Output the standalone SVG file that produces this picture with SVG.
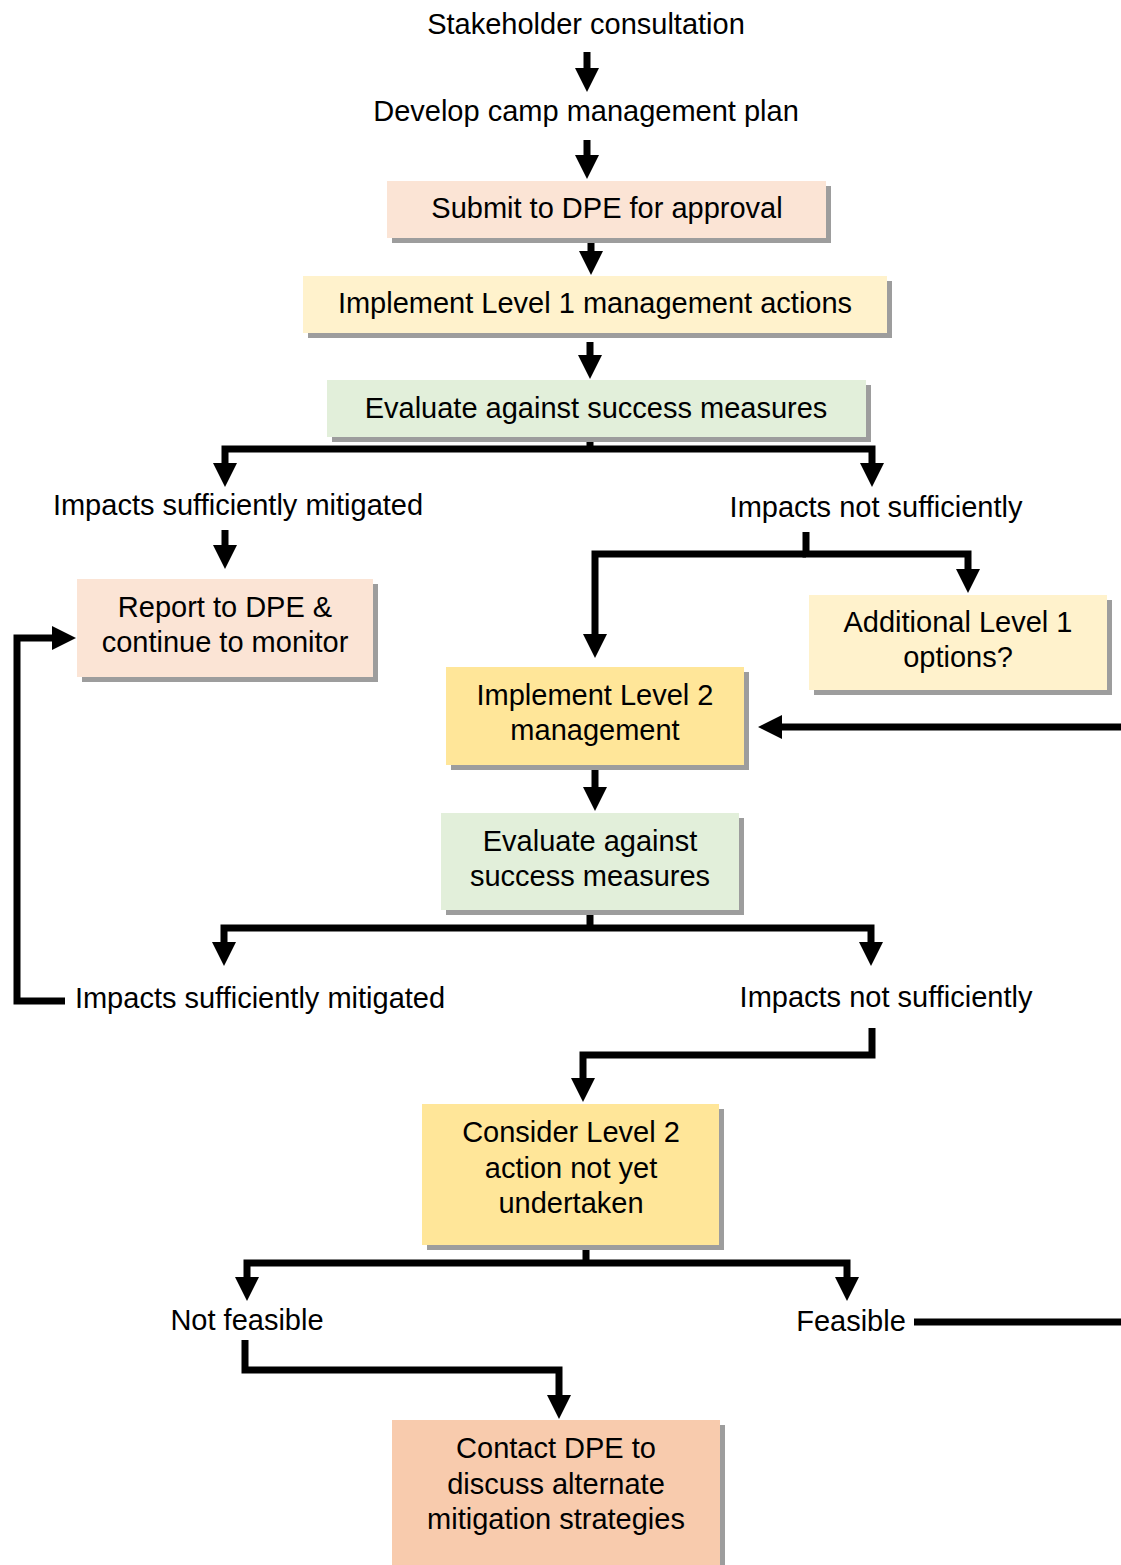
<svg xmlns="http://www.w3.org/2000/svg" width="1121" height="1565" viewBox="0 0 1121 1565">
<style>
text{font-family:"Liberation Sans",Arial,sans-serif;font-size:29px;fill:#000;text-anchor:middle}
.sh{fill:#9d9d9d}
.peach{fill:#fbe4d5}
.lv1{fill:#fff2cc}
.grn{fill:#e2efda}
.lv2{fill:#ffe699}
.org{fill:#f8cbad}
.c{fill:none;stroke:#000;stroke-width:7;stroke-linejoin:miter}
.a{marker-end:url(#ah)}
</style>
<defs>
<marker id="ah" markerUnits="userSpaceOnUse" markerWidth="24" markerHeight="24" viewBox="0 0 24 24" refX="1" refY="12" orient="auto">
<path d="M0,0 L24,12 L0,24 z" fill="#000"/>
</marker>
</defs>
<rect width="1121" height="1565" fill="#fff"/>
<g id="connectors">
<path class="c a" d="M587,52 V69"/>
<path class="c a" d="M587,140 V156"/>
<path class="c a" d="M591,238 V252"/>
<path class="c a" d="M590,342 V356"/>
<path class="c" d="M590,437 V452"/>
<path class="c a" d="M590,449 H225 V464"/>
<path class="c a" d="M590,449 H872 V464"/>
<path class="c a" d="M225,530 V546"/>
<path class="c a" d="M65,1001 H17 V638 H53"/>
<path class="c a" d="M806,532 V554 H968 V570"/>
<path class="c a" d="M806,554 H595 V635"/>
<path class="c a" d="M1121,727 H781"/>
<path class="c a" d="M595,765 V788"/>
<path class="c" d="M590,910 V931"/>
<path class="c a" d="M590,928 H224 V943"/>
<path class="c a" d="M590,928 H871 V943"/>
<path class="c a" d="M872,1028 V1055 H583 V1079"/>
<path class="c" d="M586,1245 V1266"/>
<path class="c a" d="M586,1263 H247 V1278"/>
<path class="c a" d="M586,1263 H847 V1278"/>
<path class="c" d="M914,1322 H1121"/>
<path class="c a" d="M245,1340 V1370 H559 V1396"/>
</g>
<g id="n-stakeholder"><text x="586" y="34">Stakeholder consultation</text></g>
<g id="n-develop"><text x="586" y="121">Develop camp management plan</text></g>
<g id="n-submit">
<rect class="sh" x="392" y="186" width="439" height="57"/>
<rect class="peach" x="387" y="181" width="439" height="57"/>
<text x="607" y="218">Submit to DPE for approval</text>
</g>
<g id="n-impl1">
<rect class="sh" x="308" y="281" width="584" height="57"/>
<rect class="lv1" x="303" y="276" width="584" height="57"/>
<text x="595" y="313">Implement Level 1 management actions</text>
</g>
<g id="n-eval1">
<rect class="sh" x="332" y="385" width="539" height="57"/>
<rect class="grn" x="327" y="380" width="539" height="57"/>
<text x="596" y="418">Evaluate against success measures</text>
</g>
<g id="n-mitig1"><text x="238" y="515">Impacts sufficiently mitigated</text></g>
<g id="n-notsuff1"><text x="876" y="517">Impacts not sufficiently</text></g>
<g id="n-report">
<rect class="sh" x="82" y="584" width="296" height="98"/>
<rect class="peach" x="77" y="579" width="296" height="98"/>
<text x="225" y="617">Report to DPE &amp;</text>
<text x="225" y="652">continue to monitor</text>
</g>
<g id="n-additional">
<rect class="sh" x="814" y="600" width="298" height="95"/>
<rect class="lv1" x="809" y="595" width="298" height="95"/>
<text x="958" y="632">Additional Level 1</text>
<text x="958" y="667">options?</text>
</g>
<g id="n-impl2">
<rect class="sh" x="451" y="672" width="298" height="98"/>
<rect class="lv2" x="446" y="667" width="298" height="98"/>
<text x="595" y="705">Implement Level 2</text>
<text x="595" y="740">management</text>
</g>
<g id="n-eval2">
<rect class="sh" x="446" y="818" width="298" height="97"/>
<rect class="grn" x="441" y="813" width="298" height="97"/>
<text x="590" y="851">Evaluate against</text>
<text x="590" y="886">success measures</text>
</g>
<g id="n-mitig2"><text x="260" y="1008">Impacts sufficiently mitigated</text></g>
<g id="n-notsuff2"><text x="886" y="1007">Impacts not sufficiently</text></g>
<g id="n-consider">
<rect class="sh" x="427" y="1109" width="297" height="141"/>
<rect class="lv2" x="422" y="1104" width="297" height="141"/>
<text x="571" y="1142">Consider Level 2</text>
<text x="571" y="1178">action not yet</text>
<text x="571" y="1213">undertaken</text>
</g>
<g id="n-notfeasible"><text x="247" y="1330">Not feasible</text></g>
<g id="n-feasible"><text x="851" y="1331">Feasible</text></g>
<g id="n-contact">
<rect class="sh" x="397" y="1425" width="328" height="145"/>
<rect class="org" x="392" y="1420" width="328" height="150"/>
<text x="556" y="1458">Contact DPE to</text>
<text x="556" y="1494">discuss alternate</text>
<text x="556" y="1529">mitigation strategies</text>
</g>
</svg>
